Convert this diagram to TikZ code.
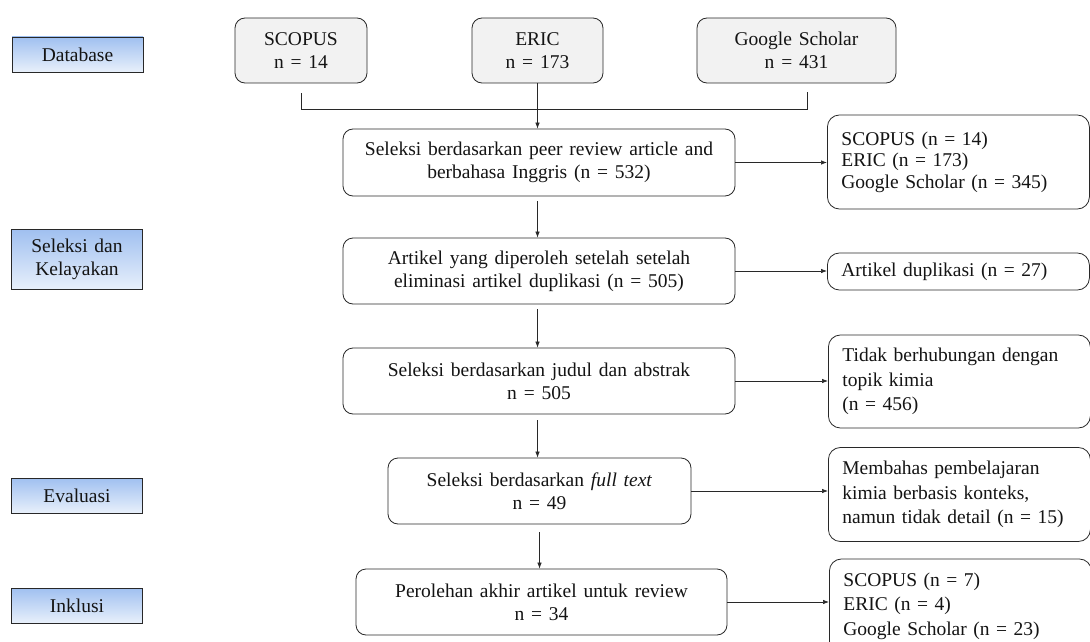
\documentclass[tikz,border=0pt]{standalone}
\usepackage{fontspec}
\setmainfont{Liberation Serif}[WordSpace=1.4]
\usetikzlibrary{arrows.meta,calc}
\definecolor{stTop}{RGB}{160,192,240}
\definecolor{stBot}{RGB}{232,240,251}
\definecolor{dbFill}{RGB}{242,242,242}
\definecolor{lineC}{RGB}{40,40,40}
\begin{document}
\begin{tikzpicture}[x=1pt,y=-1pt,
  every node/.style={font=\fontsize{19.5}{23}\selectfont, text=black!92},
  stage/.style={draw=lineC, line width=0.9pt, top color=stTop, bottom color=stBot,
    minimum width=131pt, inner sep=0pt, align=center},
  dbbox/.style={draw=lineC, line width=0.8pt, fill=dbFill, rounded corners=10pt,
    minimum height=65pt, inner sep=0pt, align=center},
  mainbox/.style={draw=lineC, line width=0.8pt, fill=white, rounded corners=10pt,
    minimum height=66pt, inner sep=0pt, align=center},
  sidebox/.style={draw=lineC, line width=0.8pt, fill=white, rounded corners=12pt,
    anchor=west, inner ysep=0pt, inner xsep=14pt, text width=234pt, align=left},
  arr/.style={-{Latex[length=6pt,width=4.5pt]}, line width=0.7pt, draw=lineC},
  conn/.style={line width=0.7pt, draw=lineC}
]
\useasboundingbox (0,0) rectangle (1090,642);

% stage labels
\node[stage, minimum height=35pt] (st1) at (77.5,54.5) {Database};
\node[stage, minimum height=60pt] (st2) at (77,259.5) {Seleksi dan\\Kelayakan};
\node[stage, minimum height=35pt] (st3) at (77,495.5) {Evaluasi};
\node[stage, minimum height=35pt] (st4) at (77,605.5) {Inklusi};

% databases
\node[dbbox, minimum width=132pt] (SC) at (301,50.5) {SCOPUS\\n = 14};
\node[dbbox, minimum width=131pt] (ER) at (537.5,50.5) {ERIC\\n = 173};
\node[dbbox, minimum width=199pt] (GS) at (796.5,50.5) {Google Scholar\\n = 431};

% main column
\node[mainbox, minimum width=392pt, minimum height=67pt] (B1) at (539,162.5)
  {Seleksi berdasarkan peer review article and\\berbahasa Inggris (n = 532)};
\node[mainbox, minimum width=392pt] (B2) at (539,271)
  {Artikel yang diperoleh setelah setelah\\eliminasi artikel duplikasi (n = 505)};
\node[mainbox, minimum width=392pt] (B3) at (539,381)
  {Seleksi berdasarkan judul dan abstrak\\n = 505};
\node[mainbox, minimum width=303pt] (B4) at (539.5,491)
  {Seleksi berdasarkan \textit{full text}\\n = 49};
\node[mainbox, minimum width=371pt] (B5) at (541.5,602)
  {Perolehan akhir artikel untuk review\\n = 34};

% side boxes
\node[sidebox, minimum height=94pt, font=\fontsize{19.5}{21.5}\selectfont] (R1) at (827,162)
  {SCOPUS (n = 14)\\ERIC (n = 173)\\Google Scholar (n = 345)};
\node[sidebox, minimum height=37pt] (R2) at (827,271.5)
  {Artikel duplikasi (n = 27)};
\node[sidebox, minimum height=93pt, font=\fontsize{19.5}{24.5}\selectfont] (R3) at (828,381.5)
  {Tidak berhubungan dengan\\topik kimia\\(n = 456)};
\node[sidebox, minimum height=94pt, font=\fontsize{19.5}{24.5}\selectfont] (R4) at (828,494.5)
  {Membahas pembelajaran\\kimia berbasis konteks,\\namun tidak detail (n = 15)};
\node[sidebox, minimum height=94pt, font=\fontsize{19.5}{24.5}\selectfont] (R5) at (829,606)
  {SCOPUS (n = 7)\\ERIC (n = 4)\\Google Scholar (n = 23)};

% bracket joining databases
\coordinate (brL) at (301,109);
\coordinate (brR) at (807,109);
\draw[conn] ([yshift=-10pt]SC.south) -- (brL) -- (brR) -- (807,92);
\draw[arr] (ER.south) -- (ER.south |- B1.north);

% vertical arrows
\draw[arr] ([yshift=-5pt]B1.south -| ER.south) -- (B2.north -| ER.south);
\draw[arr] ([yshift=-5pt]B2.south -| ER.south) -- (B3.north -| ER.south);
\draw[arr] ([yshift=-6pt]B3.south -| ER.south) -- (B4.north -| ER.south);
\draw[arr] ([yshift=-8pt]B4.south -| B4.south) -- (B5.north -| B4.south);

% horizontal arrows
\draw[arr] (B1.east) -- (B1.east -| R1.west);
\draw[arr] (B2.east) -- (B2.east -| R2.west);
\draw[arr] (B3.east) -- (B3.east -| R3.west);
\draw[arr] (B4.east) -- (B4.east -| R4.west);
\draw[arr] (B5.east) -- (B5.east -| R5.west);
\end{tikzpicture}
\end{document}
